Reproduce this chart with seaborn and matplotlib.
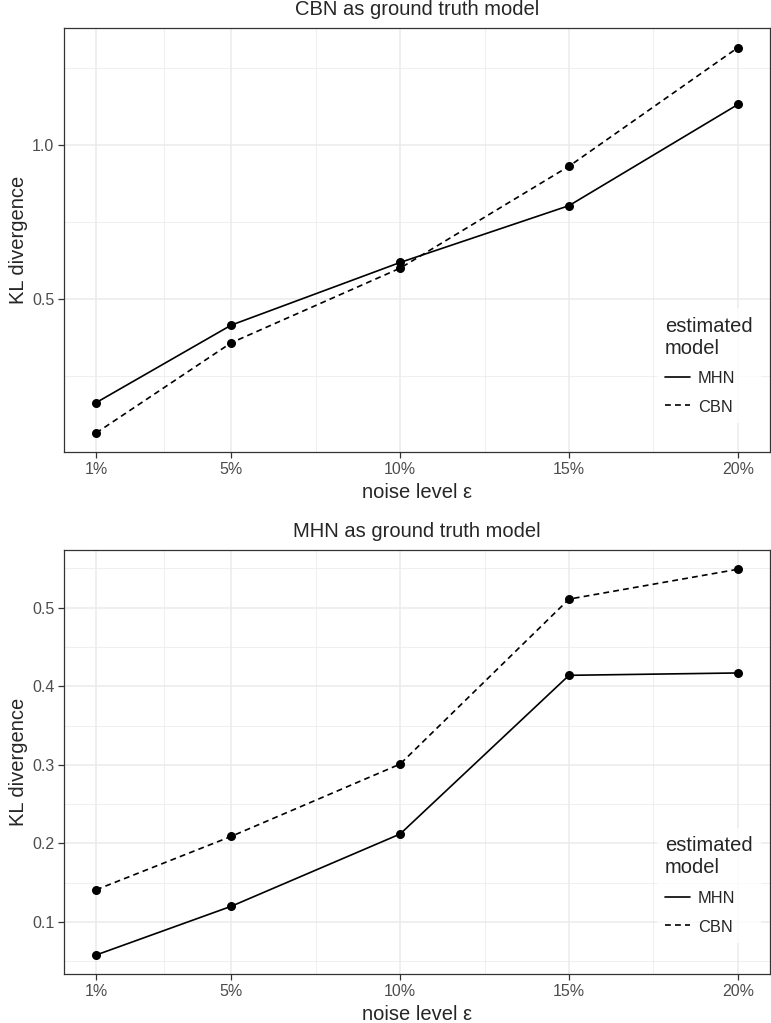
import numpy as np
import pandas as pd
import seaborn as sns
import matplotlib.pyplot as plt
from matplotlib.lines import Line2D
from matplotlib.ticker import FixedLocator, NullFormatter

# values
noise = [1, 5, 10, 15, 20]
noise_labels = ['1%', '5%', '10%', '15%', '20%']
models = ['MHN', 'CBN']

# CBN as ground truth (log y axis)
cbn_truth_mhn = [0.313, 0.444, 0.589, 0.761, 1.201]
cbn_truth_cbn = [0.273, 0.410, 0.574, 0.909, 1.552]

# MHN as ground truth (linear y axis)
mhn_truth_mhn = [0.058, 0.120, 0.212, 0.414, 0.417]
mhn_truth_cbn = [0.141, 0.209, 0.301, 0.511, 0.549]

sns.set_style('white')
plt.rcParams['font.family'] = ['Liberation Sans', 'DejaVu Sans']

fig = plt.figure(figsize=(7.71, 10.23), dpi=100)
ax1 = fig.add_axes([0.083, 0.5579, 0.9157, 0.4144])
ax2 = fig.add_axes([0.083, 0.0476, 0.9157, 0.4148])


def make_df(mhn, cbn):
    return pd.DataFrame({
        'noise': noise * 2,
        'kl': mhn + cbn,
        'model': ['MHN'] * 5 + ['CBN'] * 5,
    })


def draw(ax, df, title, legend_y):
    sns.lineplot(data=df, x='noise', y='kl', style='model', style_order=models,
                 color='black', markers=['o', 'o'], dashes=['', (3.5, 2.5)],
                 markersize=6.5, markeredgewidth=0, linewidth=1.2,
                 legend=False, ax=ax, zorder=3)
    ax.set_xlim(1 - 0.95, 20 + 0.95)
    ax.set_xticks(noise)
    ax.set_xticklabels(noise_labels)
    ax.xaxis.set_minor_locator(FixedLocator([3, 7.5, 12.5, 17.5]))
    ax.set_title(title, fontsize=14.5, pad=9.5)
    ax.set_xlabel('noise level ε', fontsize=14.5, labelpad=4)
    ax.set_ylabel('KL divergence', fontsize=14.5, labelpad=3)
    ax.set_axisbelow(True)
    ax.grid(True, which='major', color='#EBEBEB', linewidth=1.1)
    ax.grid(True, which='minor', color='#EBEBEB', linewidth=0.55)
    ax.tick_params(which='major', length=4, width=0.9, color='#333333',
                   labelsize=11.5, labelcolor='#4D4D4D', pad=3, direction='out',
                   bottom=True, left=True)
    ax.tick_params(which='minor', length=0)
    for s in ax.spines.values():
        s.set_color('#333333')
        s.set_linewidth(0.9)
    handles = [Line2D([], [], color='black', lw=1.2, linestyle='-'),
               Line2D([], [], color='black', lw=1.2, linestyle=(0, (3.5, 2.5)))]
    leg = ax.legend(handles, models, title='estimated\nmodel', loc='lower left',
                    bbox_to_anchor=(0.828, legend_y), frameon=True, fancybox=False,
                    fontsize=11.8, title_fontsize=14.5, handlelength=1.5,
                    handleheight=0.9, handletextpad=0.5, labelspacing=0.8,
                    borderpad=0.5, alignment='left')
    leg.get_frame().set_facecolor('white')
    leg.get_frame().set_edgecolor('white')
    leg.get_frame().set_linewidth(0)


# top panel
df1 = make_df(cbn_truth_mhn, cbn_truth_cbn)
draw(ax1, df1, 'CBN as ground truth model', 0.05)
ax1.set_yscale('log')
lo, hi = np.log10(min(cbn_truth_cbn)), np.log10(max(cbn_truth_cbn))
pad = (hi - lo) * 0.05
ax1.set_ylim(10 ** (lo - pad), 10 ** (hi + pad))
ax1.yaxis.set_major_locator(FixedLocator([0.5, 1.0]))
ax1.set_yticklabels(['0.5', '1.0'])
ax1.yaxis.set_minor_locator(FixedLocator([0.5 / np.sqrt(2), np.sqrt(0.5), np.sqrt(2)]))
ax1.yaxis.set_minor_formatter(NullFormatter())
ax1.tick_params(which='minor', length=0)

# bottom panel
df2 = make_df(mhn_truth_mhn, mhn_truth_cbn)
draw(ax2, df2, 'MHN as ground truth model', 0.055)
lo, hi = min(mhn_truth_mhn), max(mhn_truth_cbn)
pad = (hi - lo) * 0.05
ax2.set_ylim(lo - pad, hi + pad)
ax2.set_yticks([0.1, 0.2, 0.3, 0.4, 0.5])
ax2.set_yticklabels(['0.1', '0.2', '0.3', '0.4', '0.5'])
ax2.yaxis.set_minor_locator(FixedLocator([0.05, 0.15, 0.25, 0.35, 0.45, 0.55]))

fig.savefig('out.png', dpi=100)
